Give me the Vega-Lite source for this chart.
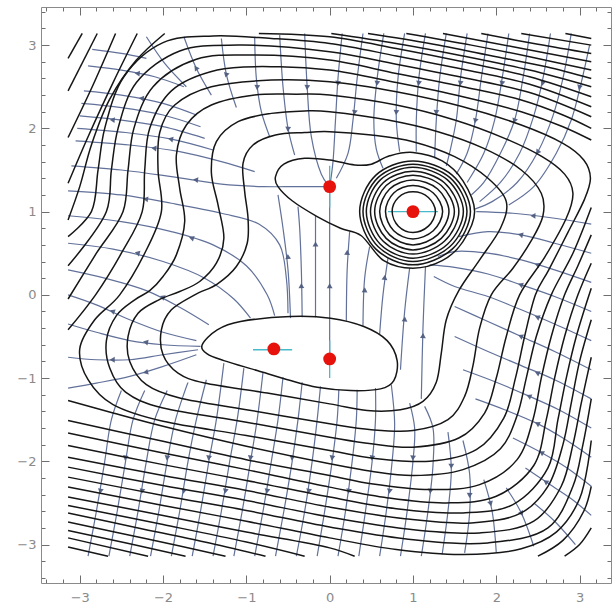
{
"$schema":"https://vega.github.io/schema/vega-lite/v6.json",
"width":570,"height":576,"autosize":"none",
"padding":{"left":41,"top":7,"right":4,"bottom":29},
"background":"white",
"config":{"view":{"stroke":null},"axis":{"tickColor":"#6e6e6e","tickWidth":1,"domainColor":"#8a8a8a","domainWidth":1}},
"datasets":{
"loops":[
{"g":"L1","x":0,"y":1.96},{"g":"L1","x":0.5,"y":1.92},{"g":"L1","x":1.0,"y":1.84},{"g":"L1","x":1.5,"y":1.66},{"g":"L1","x":1.9,"y":1.40},{"g":"L1","x":2.12,"y":1.12},{"g":"L1","x":2.05,"y":0.80},{"g":"L1","x":1.8,"y":0.42},{"g":"L1","x":1.55,"y":0.05},{"g":"L1","x":1.40,"y":-0.30},{"g":"L1","x":1.34,"y":-0.70},{"g":"L1","x":1.28,"y":-1.05},{"g":"L1","x":1.12,"y":-1.28},{"g":"L1","x":0.85,"y":-1.38},{"g":"L1","x":0.45,"y":-1.39},{"g":"L1","x":0,"y":-1.31},{"g":"L1","x":-0.75,"y":-1.18},{"g":"L1","x":-1.5,"y":-1.06},{"g":"L1","x":-1.82,"y":-0.94},{"g":"L1","x":-2.0,"y":-0.72},{"g":"L1","x":-2.02,"y":-0.42},{"g":"L1","x":-1.9,"y":-0.18},{"g":"L1","x":-1.62,"y":0.0},{"g":"L1","x":-1.35,"y":0.13},{"g":"L1","x":-1.12,"y":0.34},{"g":"L1","x":-0.99,"y":0.62},{"g":"L1","x":-0.98,"y":0.92},{"g":"L1","x":-1.02,"y":1.24},{"g":"L1","x":-1.04,"y":1.58},{"g":"L1","x":-0.92,"y":1.80},{"g":"L1","x":-0.65,"y":1.92},{"g":"L1","x":-0.3,"y":1.95},
{"g":"L2","x":0,"y":2.20},{"g":"L2","x":0.7,"y":2.10},{"g":"L2","x":1.3,"y":1.96},{"g":"L2","x":1.85,"y":1.76},{"g":"L2","x":2.3,"y":1.50},{"g":"L2","x":2.54,"y":1.22},{"g":"L2","x":2.56,"y":0.95},{"g":"L2","x":2.42,"y":0.65},{"g":"L2","x":2.2,"y":0.32},{"g":"L2","x":1.94,"y":0.0},{"g":"L2","x":1.80,"y":-0.40},{"g":"L2","x":1.72,"y":-0.85},{"g":"L2","x":1.62,"y":-1.22},{"g":"L2","x":1.42,"y":-1.50},{"g":"L2","x":1.0,"y":-1.63},{"g":"L2","x":0.5,"y":-1.62},{"g":"L2","x":0,"y":-1.55},{"g":"L2","x":-1.0,"y":-1.38},{"g":"L2","x":-1.8,"y":-1.24},{"g":"L2","x":-2.2,"y":-1.08},{"g":"L2","x":-2.40,"y":-0.80},{"g":"L2","x":-2.42,"y":-0.50},{"g":"L2","x":-2.3,"y":-0.22},{"g":"L2","x":-2.05,"y":-0.06},{"g":"L2","x":-1.80,"y":0.04},{"g":"L2","x":-1.56,"y":0.16},{"g":"L2","x":-1.36,"y":0.38},{"g":"L2","x":-1.27,"y":0.68},{"g":"L2","x":-1.34,"y":1.08},{"g":"L2","x":-1.42,"y":1.47},{"g":"L2","x":-1.36,"y":1.84},{"g":"L2","x":-1.10,"y":2.08},{"g":"L2","x":-0.7,"y":2.18},{"g":"L2","x":-0.3,"y":2.21},
{"g":"L3","x":0,"y":2.40},{"g":"L3","x":0.8,"y":2.28},{"g":"L3","x":1.5,"y":2.10},{"g":"L3","x":2.1,"y":1.88},{"g":"L3","x":2.55,"y":1.66},{"g":"L3","x":2.82,"y":1.45},{"g":"L3","x":2.92,"y":1.22},{"g":"L3","x":2.84,"y":0.92},{"g":"L3","x":2.58,"y":0.45},{"g":"L3","x":2.28,"y":0.0},{"g":"L3","x":2.12,"y":-0.5},{"g":"L3","x":2.0,"y":-1.0},{"g":"L3","x":1.86,"y":-1.42},{"g":"L3","x":1.55,"y":-1.72},{"g":"L3","x":1.0,"y":-1.83},{"g":"L3","x":0.5,"y":-1.79},{"g":"L3","x":0,"y":-1.71},{"g":"L3","x":-1.0,"y":-1.53},{"g":"L3","x":-2.0,"y":-1.36},{"g":"L3","x":-2.45,"y":-1.17},{"g":"L3","x":-2.64,"y":-0.88},{"g":"L3","x":-2.68,"y":-0.55},{"g":"L3","x":-2.56,"y":-0.25},{"g":"L3","x":-2.34,"y":-0.06},{"g":"L3","x":-2.16,"y":0.05},{"g":"L3","x":-2.0,"y":0.22},{"g":"L3","x":-1.84,"y":0.48},{"g":"L3","x":-1.74,"y":0.88},{"g":"L3","x":-1.80,"y":1.28},{"g":"L3","x":-1.84,"y":1.68},{"g":"L3","x":-1.72,"y":2.04},{"g":"L3","x":-1.42,"y":2.28},{"g":"L3","x":-0.9,"y":2.40},{"g":"L3","x":-0.4,"y":2.41},
{"g":"L4","x":0,"y":2.56},{"g":"L4","x":0.8,"y":2.44},{"g":"L4","x":1.6,"y":2.26},{"g":"L4","x":2.3,"y":2.04},{"g":"L4","x":2.8,"y":1.82},{"g":"L4","x":3.05,"y":1.62},{"g":"L4","x":3.13,"y":1.40},{"g":"L4","x":3.06,"y":1.15},{"g":"L4","x":2.86,"y":0.75},{"g":"L4","x":2.63,"y":0.3},{"g":"L4","x":2.47,"y":0.0},{"g":"L4","x":2.34,"y":-0.5},{"g":"L4","x":2.23,"y":-1.0},{"g":"L4","x":2.09,"y":-1.48},{"g":"L4","x":1.76,"y":-1.86},{"g":"L4","x":1.2,"y":-2.0},{"g":"L4","x":0.5,"y":-1.96},{"g":"L4","x":0,"y":-1.87},{"g":"L4","x":-1.0,"y":-1.69},{"g":"L4","x":-2.0,"y":-1.52},{"g":"L4","x":-2.6,"y":-1.32},{"g":"L4","x":-2.9,"y":-1.02},{"g":"L4","x":-3.0,"y":-0.65},{"g":"L4","x":-2.82,"y":-0.3},{"g":"L4","x":-2.52,"y":0.0},{"g":"L4","x":-2.22,"y":0.5},{"g":"L4","x":-2.02,"y":1.0},{"g":"L4","x":-2.06,"y":1.5},{"g":"L4","x":-2.04,"y":1.95},{"g":"L4","x":-1.86,"y":2.28},{"g":"L4","x":-1.42,"y":2.50},{"g":"L4","x":-0.7,"y":2.58},
{"g":"B0","x":-1.53,"y":-0.60},{"g":"B0","x":-1.35,"y":-0.42},{"g":"B0","x":-1.07,"y":-0.32},{"g":"B0","x":-0.47,"y":-0.26},{"g":"B0","x":0.01,"y":-0.28},{"g":"B0","x":0.41,"y":-0.38},{"g":"B0","x":0.69,"y":-0.55},{"g":"B0","x":0.81,"y":-0.79},{"g":"B0","x":0.77,"y":-1.03},{"g":"B0","x":0.61,"y":-1.13},{"g":"B0","x":0.25,"y":-1.15},{"g":"B0","x":-0.15,"y":-1.11},{"g":"B0","x":-0.47,"y":-1.03},{"g":"B0","x":-0.87,"y":-0.91},{"g":"B0","x":-1.27,"y":-0.79},{"g":"B0","x":-1.47,"y":-0.71},
{"g":"L0","x":-0.65,"y":1.42},{"g":"L0","x":-0.55,"y":1.57},{"g":"L0","x":-0.3,"y":1.64},{"g":"L0","x":0.0,"y":1.62},{"g":"L0","x":0.3,"y":1.56},{"g":"L0","x":0.5,"y":1.57},{"g":"L0","x":0.72,"y":1.67},{"g":"L0","x":1.0,"y":1.71},{"g":"L0","x":1.35,"y":1.61},{"g":"L0","x":1.6,"y":1.37},{"g":"L0","x":1.74,"y":1.0},{"g":"L0","x":1.6,"y":0.64},{"g":"L0","x":1.35,"y":0.41},{"g":"L0","x":1.0,"y":0.32},{"g":"L0","x":0.65,"y":0.41},{"g":"L0","x":0.38,"y":0.71},{"g":"L0","x":0.13,"y":0.80},{"g":"L0","x":-0.15,"y":0.94},{"g":"L0","x":-0.45,"y":1.13},{"g":"L0","x":-0.62,"y":1.3},
{"g":"r1","x":1.27,"y":1},{"g":"r1","x":1.185,"y":1.17},{"g":"r1","x":1,"y":1.238},{"g":"r1","x":0.825,"y":1.17},{"g":"r1","x":0.75,"y":1},{"g":"r1","x":0.825,"y":0.825},{"g":"r1","x":1,"y":0.75},{"g":"r1","x":1.185,"y":0.825},
{"g":"r2","x":1.356,"y":1},{"g":"r2","x":1.244,"y":1.224},{"g":"r2","x":1,"y":1.314},{"g":"r2","x":0.769,"y":1.224},{"g":"r2","x":0.67,"y":1},{"g":"r2","x":0.769,"y":0.769},{"g":"r2","x":1,"y":0.67},{"g":"r2","x":1.244,"y":0.769},
{"g":"r3","x":1.432,"y":1},{"g":"r3","x":1.296,"y":1.272},{"g":"r3","x":1,"y":1.38},{"g":"r3","x":0.72,"y":1.272},{"g":"r3","x":0.6,"y":1},{"g":"r3","x":0.72,"y":0.72},{"g":"r3","x":1,"y":0.6},{"g":"r3","x":1.296,"y":0.72},
{"g":"r4","x":1.497,"y":1},{"g":"r4","x":1.34,"y":1.313},{"g":"r4","x":1,"y":1.437},{"g":"r4","x":0.678,"y":1.313},{"g":"r4","x":0.54,"y":1},{"g":"r4","x":0.678,"y":0.678},{"g":"r4","x":1,"y":0.54},{"g":"r4","x":1.34,"y":0.678},
{"g":"r5","x":1.551,"y":1},{"g":"r5","x":1.377,"y":1.347},{"g":"r5","x":1,"y":1.485},{"g":"r5","x":0.643,"y":1.347},{"g":"r5","x":0.49,"y":1},{"g":"r5","x":0.643,"y":0.643},{"g":"r5","x":1,"y":0.49},{"g":"r5","x":1.377,"y":0.643},
{"g":"r6","x":1.605,"y":1},{"g":"r6","x":1.414,"y":1.381},{"g":"r6","x":1,"y":1.532},{"g":"r6","x":0.608,"y":1.381},{"g":"r6","x":0.44,"y":1},{"g":"r6","x":0.608,"y":0.608},{"g":"r6","x":1,"y":0.44},{"g":"r6","x":1.414,"y":0.608},
{"g":"r7","x":1.648,"y":1},{"g":"r7","x":1.444,"y":1.408},{"g":"r7","x":1,"y":1.57},{"g":"r7","x":0.58,"y":1.408},{"g":"r7","x":0.4,"y":1},{"g":"r7","x":0.58,"y":0.58},{"g":"r7","x":1,"y":0.4},{"g":"r7","x":1.444,"y":0.58},
{"g":"r8","x":1.69,"y":1},{"g":"r8","x":1.474,"y":1.435},{"g":"r8","x":1,"y":1.608},{"g":"r8","x":0.552,"y":1.435},{"g":"r8","x":0.36,"y":1},{"g":"r8","x":0.552,"y":0.552},{"g":"r8","x":1,"y":0.36},{"g":"r8","x":1.474,"y":0.552}
],
"open":[
{"g":"L5a","x":-3.14,"y":-0.42},{"g":"L5a","x":-2.81,"y":0.0},{"g":"L5a","x":-2.5,"y":0.5},{"g":"L5a","x":-2.25,"y":1.0},{"g":"L5a","x":-2.22,"y":1.5},{"g":"L5a","x":-2.16,"y":2.0},{"g":"L5a","x":-1.9,"y":2.45},{"g":"L5a","x":-1.35,"y":2.70},{"g":"L5a","x":-0.6,"y":2.74},{"g":"L5a","x":0,"y":2.70},{"g":"L5a","x":0.8,"y":2.55},{"g":"L5a","x":1.6,"y":2.38},{"g":"L5a","x":2.3,"y":2.20},{"g":"L5a","x":2.8,"y":2.02},{"g":"L5a","x":3.14,"y":1.86},
{"g":"L5b","x":3.14,"y":1.05},{"g":"L5b","x":2.92,"y":0.5},{"g":"L5b","x":2.66,"y":0.0},{"g":"L5b","x":2.48,"y":-0.5},{"g":"L5b","x":2.36,"y":-1.0},{"g":"L5b","x":2.25,"y":-1.45},{"g":"L5b","x":2.05,"y":-1.85},{"g":"L5b","x":1.6,"y":-2.10},{"g":"L5b","x":1.0,"y":-2.17},{"g":"L5b","x":0.5,"y":-2.12},{"g":"L5b","x":0,"y":-2.03},{"g":"L5b","x":-1.0,"y":-1.82},{"g":"L5b","x":-2.0,"y":-1.58},{"g":"L5b","x":-2.6,"y":-1.42},{"g":"L5b","x":-3.14,"y":-1.27},
{"g":"L6a","x":-3.14,"y":-0.05},{"g":"L6a","x":-2.8,"y":0.5},{"g":"L6a","x":-2.48,"y":1.0},{"g":"L6a","x":-2.42,"y":1.5},{"g":"L6a","x":-2.35,"y":2.0},{"g":"L6a","x":-2.12,"y":2.5},{"g":"L6a","x":-1.6,"y":2.83},{"g":"L6a","x":-0.9,"y":2.88},{"g":"L6a","x":0,"y":2.82},{"g":"L6a","x":0.8,"y":2.66},{"g":"L6a","x":1.6,"y":2.50},{"g":"L6a","x":2.3,"y":2.34},{"g":"L6a","x":2.8,"y":2.16},{"g":"L6a","x":3.14,"y":2.00},
{"g":"L6b","x":3.14,"y":0.72},{"g":"L6b","x":2.98,"y":0.35},{"g":"L6b","x":2.82,"y":0.0},{"g":"L6b","x":2.66,"y":-0.5},{"g":"L6b","x":2.54,"y":-1.0},{"g":"L6b","x":2.44,"y":-1.5},{"g":"L6b","x":2.25,"y":-1.98},{"g":"L6b","x":1.8,"y":-2.28},{"g":"L6b","x":1.2,"y":-2.34},{"g":"L6b","x":0.5,"y":-2.27},{"g":"L6b","x":0,"y":-2.17},{"g":"L6b","x":-1.0,"y":-1.98},{"g":"L6b","x":-2.0,"y":-1.76},{"g":"L6b","x":-3.14,"y":-1.51},
{"g":"L7a","x":-3.14,"y":0.35},{"g":"L7a","x":-2.68,"y":1.0},{"g":"L7a","x":-2.62,"y":1.5},{"g":"L7a","x":-2.54,"y":2.0},{"g":"L7a","x":-2.32,"y":2.55},{"g":"L7a","x":-1.8,"y":2.93},{"g":"L7a","x":-1.1,"y":3.0},{"g":"L7a","x":0,"y":2.92},{"g":"L7a","x":0.8,"y":2.77},{"g":"L7a","x":1.6,"y":2.61},{"g":"L7a","x":2.4,"y":2.43},{"g":"L7a","x":3.14,"y":2.14},
{"g":"L7b","x":3.14,"y":0.38},{"g":"L7b","x":2.98,"y":0.0},{"g":"L7b","x":2.82,"y":-0.5},{"g":"L7b","x":2.70,"y":-1.0},{"g":"L7b","x":2.60,"y":-1.5},{"g":"L7b","x":2.45,"y":-2.05},{"g":"L7b","x":2.0,"y":-2.42},{"g":"L7b","x":1.4,"y":-2.50},{"g":"L7b","x":0.7,"y":-2.44},{"g":"L7b","x":0,"y":-2.31},{"g":"L7b","x":-1.0,"y":-2.10},{"g":"L7b","x":-2.0,"y":-1.90},{"g":"L7b","x":-3.14,"y":-1.66},
{"g":"L8a","x":-3.14,"y":0.7},{"g":"L8a","x":-2.86,"y":1.0},{"g":"L8a","x":-2.78,"y":1.5},{"g":"L8a","x":-2.70,"y":2.0},{"g":"L8a","x":-2.47,"y":2.62},{"g":"L8a","x":-2.0,"y":3.03},{"g":"L8a","x":-1.4,"y":3.11},{"g":"L8a","x":-0.7,"y":3.08},{"g":"L8a","x":0,"y":3.02},{"g":"L8a","x":0.8,"y":2.87},{"g":"L8a","x":1.6,"y":2.71},{"g":"L8a","x":2.4,"y":2.53},{"g":"L8a","x":3.14,"y":2.26},
{"g":"L8b","x":3.14,"y":0.08},{"g":"L8b","x":2.96,"y":-0.5},{"g":"L8b","x":2.84,"y":-1.0},{"g":"L8b","x":2.74,"y":-1.5},{"g":"L8b","x":2.62,"y":-2.08},{"g":"L8b","x":2.2,"y":-2.52},{"g":"L8b","x":1.6,"y":-2.62},{"g":"L8b","x":0.8,"y":-2.57},{"g":"L8b","x":0,"y":-2.43},{"g":"L8b","x":-1.0,"y":-2.23},{"g":"L8b","x":-2.0,"y":-2.04},{"g":"L8b","x":-3.14,"y":-1.81},
{"g":"L9a","x":-3.14,"y":0.9},{"g":"L9a","x":-3.0,"y":1.3},{"g":"L9a","x":-2.86,"y":1.8},{"g":"L9a","x":-2.64,"y":2.35},{"g":"L9a","x":-2.32,"y":2.82},{"g":"L9a","x":-1.98,"y":3.14},
{"g":"L9b","x":-0.85,"y":3.14},{"g":"L9b","x":0,"y":3.10},{"g":"L9b","x":0.8,"y":2.96},{"g":"L9b","x":1.6,"y":2.80},{"g":"L9b","x":2.4,"y":2.62},{"g":"L9b","x":3.14,"y":2.38},
{"g":"L9c","x":3.14,"y":-0.3},{"g":"L9c","x":3.0,"y":-0.8},{"g":"L9c","x":2.9,"y":-1.3},{"g":"L9c","x":2.8,"y":-1.8},{"g":"L9c","x":2.62,"y":-2.3},{"g":"L9c","x":2.3,"y":-2.62},{"g":"L9c","x":1.7,"y":-2.74},{"g":"L9c","x":0.9,"y":-2.69},{"g":"L9c","x":0,"y":-2.55},{"g":"L9c","x":-1.0,"y":-2.35},{"g":"L9c","x":-2.0,"y":-2.17},{"g":"L9c","x":-3.14,"y":-1.95},
{"g":"L10a","x":-3.14,"y":1.34},{"g":"L10a","x":-2.9,"y":1.9},{"g":"L10a","x":-2.6,"y":2.55},{"g":"L10a","x":-2.31,"y":3.14},
{"g":"L10b","x":0.02,"y":3.14},{"g":"L10b","x":0.8,"y":3.02},{"g":"L10b","x":1.6,"y":2.87},{"g":"L10b","x":2.4,"y":2.70},{"g":"L10b","x":3.14,"y":2.50},
{"g":"L10c","x":3.14,"y":-0.75},{"g":"L10c","x":3.02,"y":-1.3},{"g":"L10c","x":2.92,"y":-1.8},{"g":"L10c","x":2.78,"y":-2.3},{"g":"L10c","x":2.45,"y":-2.72},{"g":"L10c","x":1.8,"y":-2.86},{"g":"L10c","x":0.9,"y":-2.81},{"g":"L10c","x":0,"y":-2.67},{"g":"L10c","x":-1.0,"y":-2.47},{"g":"L10c","x":-2.0,"y":-2.29},{"g":"L10c","x":-3.14,"y":-2.07},
{"g":"L11a","x":-3.14,"y":1.89},{"g":"L11a","x":-2.85,"y":2.5},{"g":"L11a","x":-2.57,"y":3.14},
{"g":"L11b","x":0.46,"y":3.14},{"g":"L11b","x":1.2,"y":3.02},{"g":"L11b","x":2.0,"y":2.86},{"g":"L11b","x":2.6,"y":2.74},{"g":"L11b","x":3.14,"y":2.60},
{"g":"L11c","x":3.14,"y":-1.25},{"g":"L11c","x":3.04,"y":-1.8},{"g":"L11c","x":2.92,"y":-2.3},{"g":"L11c","x":2.62,"y":-2.8},{"g":"L11c","x":1.9,"y":-2.98},{"g":"L11c","x":0.9,"y":-2.93},{"g":"L11c","x":0,"y":-2.79},{"g":"L11c","x":-1.0,"y":-2.59},{"g":"L11c","x":-2.0,"y":-2.41},{"g":"L11c","x":-3.14,"y":-2.19},
{"g":"L12a","x":-3.14,"y":2.45},{"g":"L12a","x":-2.79,"y":3.14},
{"g":"L12b","x":0.92,"y":3.14},{"g":"L12b","x":1.7,"y":3.0},{"g":"L12b","x":2.4,"y":2.86},{"g":"L12b","x":3.14,"y":2.70},
{"g":"L12c","x":3.14,"y":-1.75},{"g":"L12c","x":3.0,"y":-2.45},{"g":"L12c","x":2.72,"y":-2.85},{"g":"L12c","x":2.3,"y":-3.05},{"g":"L12c","x":1.6,"y":-3.12},{"g":"L12c","x":0.8,"y":-3.06},{"g":"L12c","x":0,"y":-2.92},{"g":"L12c","x":-1.0,"y":-2.72},{"g":"L12c","x":-2.0,"y":-2.53},{"g":"L12c","x":-3.14,"y":-2.31},
{"g":"L13a","x":-3.14,"y":2.84},{"g":"L13a","x":-2.97,"y":3.14},
{"g":"L13b","x":1.36,"y":3.14},{"g":"L13b","x":2.2,"y":2.98},{"g":"L13b","x":3.14,"y":2.80},
{"g":"L13c","x":3.14,"y":-2.3},{"g":"L13c","x":3.05,"y":-2.6},{"g":"L13c","x":2.8,"y":-2.95},{"g":"L13c","x":2.5,"y":-3.14},
{"g":"L13d","x":0.3,"y":-3.14},{"g":"L13d","x":0,"y":-3.04},{"g":"L13d","x":-1.0,"y":-2.85},{"g":"L13d","x":-2.0,"y":-2.65},{"g":"L13d","x":-3.14,"y":-2.43},
{"g":"L14b","x":1.82,"y":3.14},{"g":"L14b","x":2.5,"y":3.01},{"g":"L14b","x":3.14,"y":2.90},
{"g":"L14c","x":3.14,"y":-2.8},{"g":"L14c","x":3.0,"y":-3.0},{"g":"L14c","x":2.82,"y":-3.14},
{"g":"L14d","x":-0.3,"y":-3.14},{"g":"L14d","x":-1.0,"y":-2.97},{"g":"L14d","x":-2.0,"y":-2.76},{"g":"L14d","x":-3.14,"y":-2.53},
{"g":"L15b","x":2.30,"y":3.14},{"g":"L15b","x":3.14,"y":3.00},
{"g":"L15d","x":-0.77,"y":-3.14},{"g":"L15d","x":-1.5,"y":-2.97},{"g":"L15d","x":-2.3,"y":-2.8},{"g":"L15d","x":-3.14,"y":-2.62},
{"g":"L16b","x":2.83,"y":3.14},{"g":"L16b","x":3.14,"y":3.08},
{"g":"L16d","x":-1.25,"y":-3.14},{"g":"L16d","x":-2.2,"y":-2.93},{"g":"L16d","x":-3.14,"y":-2.73},
{"g":"L17d","x":-1.73,"y":-3.14},{"g":"L17d","x":-2.4,"y":-2.99},{"g":"L17d","x":-3.14,"y":-2.83},
{"g":"L18d","x":-2.18,"y":-3.14},{"g":"L18d","x":-3.14,"y":-2.92},
{"g":"L19d","x":-2.66,"y":-3.14},{"g":"L19d","x":-3.14,"y":-3.03}
],
"streams":[
{"g":"s1a","x":0.15,"y":3.14},{"g":"s1a","x":0.1,"y":2.6},{"g":"s1a","x":0.07,"y":2.1},{"g":"s1a","x":0.04,"y":1.6},{"g":"s1a","x":0.01,"y":1.36},
{"g":"s1b","x":0.4,"y":3.14},{"g":"s1b","x":0.33,"y":2.6},{"g":"s1b","x":0.28,"y":2.1},{"g":"s1b","x":0.22,"y":1.7},{"g":"s1b","x":0.08,"y":1.4},
{"g":"s1c","x":0.65,"y":3.14},{"g":"s1c","x":0.57,"y":2.6},{"g":"s1c","x":0.53,"y":2.1},{"g":"s1c","x":0.56,"y":1.75},{"g":"s1c","x":0.64,"y":1.52},
{"g":"s1d","x":0.9,"y":3.14},{"g":"s1d","x":0.82,"y":2.6},{"g":"s1d","x":0.8,"y":2.1},{"g":"s1d","x":0.84,"y":1.72},
{"g":"s1e","x":1.15,"y":3.14},{"g":"s1e","x":1.07,"y":2.6},{"g":"s1e","x":1.04,"y":2.1},{"g":"s1e","x":1.04,"y":1.72},
{"g":"s1f","x":1.4,"y":3.14},{"g":"s1f","x":1.32,"y":2.6},{"g":"s1f","x":1.28,"y":2.1},{"g":"s1f","x":1.26,"y":1.64},
{"g":"s1g","x":1.65,"y":3.14},{"g":"s1g","x":1.57,"y":2.6},{"g":"s1g","x":1.52,"y":2.1},{"g":"s1g","x":1.45,"y":1.75},{"g":"s1g","x":1.4,"y":1.55},
{"g":"s1h","x":1.9,"y":3.14},{"g":"s1h","x":1.82,"y":2.6},{"g":"s1h","x":1.75,"y":2.1},{"g":"s1h","x":1.65,"y":1.7},{"g":"s1h","x":1.52,"y":1.45},
{"g":"s1i","x":2.15,"y":3.14},{"g":"s1i","x":2.07,"y":2.6},{"g":"s1i","x":1.98,"y":2.1},{"g":"s1i","x":1.85,"y":1.7},{"g":"s1i","x":1.65,"y":1.35},
{"g":"s1j","x":2.4,"y":3.14},{"g":"s1j","x":2.32,"y":2.6},{"g":"s1j","x":2.22,"y":2.1},{"g":"s1j","x":2.05,"y":1.7},{"g":"s1j","x":1.85,"y":1.35},{"g":"s1j","x":1.7,"y":1.2},
{"g":"s1k","x":2.65,"y":3.14},{"g":"s1k","x":2.56,"y":2.6},{"g":"s1k","x":2.45,"y":2.15},{"g":"s1k","x":2.28,"y":1.7},{"g":"s1k","x":2.05,"y":1.35},{"g":"s1k","x":1.8,"y":1.12},
{"g":"s1l","x":2.9,"y":3.14},{"g":"s1l","x":2.8,"y":2.6},{"g":"s1l","x":2.68,"y":2.15},{"g":"s1l","x":2.5,"y":1.72},{"g":"s1l","x":2.25,"y":1.35},{"g":"s1l","x":1.95,"y":1.12},{"g":"s1l","x":1.74,"y":1.03},
{"g":"s1m","x":3.12,"y":3.0},{"g":"s1m","x":3.02,"y":2.55},{"g":"s1m","x":2.9,"y":2.1},{"g":"s1m","x":2.72,"y":1.7},{"g":"s1m","x":2.45,"y":1.3},{"g":"s1m","x":2.15,"y":1.08},
{"g":"s6a","x":-0.3,"y":3.14},{"g":"s6a","x":-0.27,"y":2.5},{"g":"s6a","x":-0.22,"y":1.9},{"g":"s6a","x":-0.1,"y":1.45},{"g":"s6a","x":-0.02,"y":1.32},
{"g":"s6b","x":-0.6,"y":3.12},{"g":"s6b","x":-0.56,"y":2.5},{"g":"s6b","x":-0.5,"y":2.0},{"g":"s6b","x":-0.42,"y":1.68},
{"g":"s6c","x":-0.9,"y":3.1},{"g":"s6c","x":-0.88,"y":2.6},{"g":"s6c","x":-0.82,"y":2.2},{"g":"s6c","x":-0.72,"y":1.9},
{"g":"s6d","x":-1.3,"y":3.08},{"g":"s6d","x":-1.24,"y":2.65},{"g":"s6d","x":-1.12,"y":2.25},
{"g":"s6e","x":-1.75,"y":3.1},{"g":"s6e","x":-1.6,"y":2.72},{"g":"s6e","x":-1.42,"y":2.4},
{"g":"s6f","x":-2.2,"y":3.1},{"g":"s6f","x":-1.98,"y":2.78},{"g":"s6f","x":-1.72,"y":2.5},
{"g":"s4p","x":-2.85,"y":2.95},{"g":"s4p","x":-2.5,"y":2.9},{"g":"s4p","x":-2.2,"y":2.84},
{"g":"s4a","x":-2.9,"y":2.75},{"g":"s4a","x":-2.5,"y":2.7},{"g":"s4a","x":-2.1,"y":2.62},{"g":"s4a","x":-1.75,"y":2.5},
{"g":"s4b","x":-2.95,"y":2.45},{"g":"s4b","x":-2.5,"y":2.4},{"g":"s4b","x":-2.0,"y":2.3},{"g":"s4b","x":-1.6,"y":2.16},
{"g":"s4n","x":-2.98,"y":2.3},{"g":"s4n","x":-2.5,"y":2.25},{"g":"s4n","x":-2.0,"y":2.16},{"g":"s4n","x":-1.55,"y":2.02},
{"g":"s4c","x":-3.0,"y":2.15},{"g":"s4c","x":-2.5,"y":2.1},{"g":"s4c","x":-2.0,"y":2.02},{"g":"s4c","x":-1.5,"y":1.88},
{"g":"s4o","x":-3.03,"y":2.0},{"g":"s4o","x":-2.45,"y":1.95},{"g":"s4o","x":-1.9,"y":1.87},{"g":"s4o","x":-1.4,"y":1.74},
{"g":"s4d","x":-3.05,"y":1.85},{"g":"s4d","x":-2.4,"y":1.8},{"g":"s4d","x":-1.8,"y":1.72},{"g":"s4d","x":-1.3,"y":1.6},{"g":"s4d","x":-0.9,"y":1.48},
{"g":"s4e","x":-3.1,"y":1.55},{"g":"s4e","x":-2.5,"y":1.5},{"g":"s4e","x":-1.9,"y":1.42},{"g":"s4e","x":-1.3,"y":1.33},{"g":"s4e","x":-0.8,"y":1.3},{"g":"s4e","x":-0.4,"y":1.3},{"g":"s4e","x":-0.05,"y":1.3},
{"g":"s4f","x":-3.14,"y":1.25},{"g":"s4f","x":-2.5,"y":1.2},{"g":"s4f","x":-1.9,"y":1.1},{"g":"s4f","x":-1.3,"y":0.98},{"g":"s4f","x":-0.85,"y":0.85},{"g":"s4f","x":-0.6,"y":0.6},{"g":"s4f","x":-0.52,"y":0.2},{"g":"s4f","x":-0.5,"y":-0.22},
{"g":"s4g","x":-3.14,"y":0.95},{"g":"s4g","x":-2.5,"y":0.88},{"g":"s4g","x":-1.9,"y":0.76},{"g":"s4g","x":-1.4,"y":0.6},{"g":"s4g","x":-1.0,"y":0.35},{"g":"s4g","x":-0.75,"y":0.0},{"g":"s4g","x":-0.66,"y":-0.25},
{"g":"s4h","x":-3.14,"y":0.62},{"g":"s4h","x":-2.6,"y":0.55},{"g":"s4h","x":-2.0,"y":0.4},{"g":"s4h","x":-1.5,"y":0.2},{"g":"s4h","x":-1.15,"y":-0.05},{"g":"s4h","x":-0.95,"y":-0.28},
{"g":"s4i","x":-3.14,"y":0.3},{"g":"s4i","x":-2.7,"y":0.2},{"g":"s4i","x":-2.2,"y":0.05},{"g":"s4i","x":-1.8,"y":-0.15},{"g":"s4i","x":-1.45,"y":-0.36},
{"g":"s4j","x":-3.14,"y":0.0},{"g":"s4j","x":-2.8,"y":-0.12},{"g":"s4j","x":-2.4,"y":-0.3},{"g":"s4j","x":-2.0,"y":-0.45},{"g":"s4j","x":-1.6,"y":-0.55},
{"g":"s4k","x":-3.14,"y":-0.35},{"g":"s4k","x":-2.8,"y":-0.45},{"g":"s4k","x":-2.4,"y":-0.55},{"g":"s4k","x":-2.0,"y":-0.6},{"g":"s4k","x":-1.55,"y":-0.62},
{"g":"s4l","x":-3.14,"y":-0.75},{"g":"s4l","x":-2.8,"y":-0.78},{"g":"s4l","x":-2.4,"y":-0.78},{"g":"s4l","x":-2.0,"y":-0.72},{"g":"s4l","x":-1.58,"y":-0.66},
{"g":"s4m","x":-3.14,"y":-1.12},{"g":"s4m","x":-2.8,"y":-1.06},{"g":"s4m","x":-2.4,"y":-0.98},{"g":"s4m","x":-2.0,"y":-0.86},{"g":"s4m","x":-1.6,"y":-0.72},
{"g":"s5a","x":-0.47,"y":-0.28},{"g":"s5a","x":-0.5,"y":0.3},{"g":"s5a","x":-0.56,"y":0.8},{"g":"s5a","x":-0.62,"y":1.2},
{"g":"s5b","x":-0.33,"y":-0.27},{"g":"s5b","x":-0.34,"y":0.3},{"g":"s5b","x":-0.36,"y":0.8},{"g":"s5b","x":-0.38,"y":1.06},
{"g":"s5c","x":-0.17,"y":-0.27},{"g":"s5c","x":-0.17,"y":0.4},{"g":"s5c","x":-0.17,"y":0.95},
{"g":"s5d","x":0,"y":-0.77},{"g":"s5d","x":0,"y":0.2},{"g":"s5d","x":0,"y":1.3},
{"g":"s5e","x":0.2,"y":-0.31},{"g":"s5e","x":0.21,"y":0.3},{"g":"s5e","x":0.24,"y":0.76},
{"g":"s5f","x":0.4,"y":-0.37},{"g":"s5f","x":0.42,"y":0.2},{"g":"s5f","x":0.48,"y":0.58},
{"g":"s5g","x":0.6,"y":-0.47},{"g":"s5g","x":0.64,"y":0.0},{"g":"s5g","x":0.7,"y":0.44},
{"g":"s5h","x":0.85,"y":-0.9},{"g":"s5h","x":0.9,"y":-0.2},{"g":"s5h","x":0.96,"y":0.32},
{"g":"s5i","x":1.1,"y":-1.25},{"g":"s5i","x":1.12,"y":-0.4},{"g":"s5i","x":1.15,"y":0.34},
{"g":"s3a","x":-2.9,"y":-3.14},{"g":"s3a","x":-2.8,"y":-2.6},{"g":"s3a","x":-2.7,"y":-2.0},{"g":"s3a","x":-2.62,"y":-1.5},{"g":"s3a","x":-2.5,"y":-1.15},
{"g":"s3b","x":-2.65,"y":-3.14},{"g":"s3b","x":-2.55,"y":-2.6},{"g":"s3b","x":-2.45,"y":-2.0},{"g":"s3b","x":-2.36,"y":-1.5},{"g":"s3b","x":-2.22,"y":-1.15},
{"g":"s3c","x":-2.4,"y":-3.14},{"g":"s3c","x":-2.3,"y":-2.6},{"g":"s3c","x":-2.2,"y":-2.0},{"g":"s3c","x":-2.1,"y":-1.5},{"g":"s3c","x":-1.95,"y":-1.15},
{"g":"s3d","x":-2.15,"y":-3.14},{"g":"s3d","x":-2.05,"y":-2.6},{"g":"s3d","x":-1.95,"y":-2.0},{"g":"s3d","x":-1.85,"y":-1.5},{"g":"s3d","x":-1.7,"y":-1.05},
{"g":"s3e","x":-1.9,"y":-3.14},{"g":"s3e","x":-1.8,"y":-2.6},{"g":"s3e","x":-1.7,"y":-2.0},{"g":"s3e","x":-1.6,"y":-1.5},{"g":"s3e","x":-1.48,"y":-1.02},
{"g":"s3f","x":-1.65,"y":-3.14},{"g":"s3f","x":-1.55,"y":-2.6},{"g":"s3f","x":-1.45,"y":-2.0},{"g":"s3f","x":-1.36,"y":-1.5},{"g":"s3f","x":-1.27,"y":-0.82},
{"g":"s3g","x":-1.4,"y":-3.14},{"g":"s3g","x":-1.3,"y":-2.6},{"g":"s3g","x":-1.2,"y":-2.0},{"g":"s3g","x":-1.11,"y":-1.5},{"g":"s3g","x":-1.03,"y":-0.88},
{"g":"s3h","x":-1.15,"y":-3.14},{"g":"s3h","x":-1.05,"y":-2.6},{"g":"s3h","x":-0.95,"y":-2.0},{"g":"s3h","x":-0.87,"y":-1.5},{"g":"s3h","x":-0.8,"y":-0.93},
{"g":"s3i","x":-0.9,"y":-3.14},{"g":"s3i","x":-0.8,"y":-2.6},{"g":"s3i","x":-0.7,"y":-2.0},{"g":"s3i","x":-0.62,"y":-1.5},{"g":"s3i","x":-0.56,"y":-0.99},
{"g":"s3j","x":-0.65,"y":-3.14},{"g":"s3j","x":-0.55,"y":-2.6},{"g":"s3j","x":-0.45,"y":-2.0},{"g":"s3j","x":-0.38,"y":-1.5},{"g":"s3j","x":-0.33,"y":-1.05},
{"g":"s3k","x":-0.4,"y":-3.14},{"g":"s3k","x":-0.3,"y":-2.6},{"g":"s3k","x":-0.21,"y":-2.0},{"g":"s3k","x":-0.15,"y":-1.5},{"g":"s3k","x":-0.11,"y":-1.1},
{"g":"s3l","x":-0.15,"y":-3.14},{"g":"s3l","x":-0.06,"y":-2.6},{"g":"s3l","x":0.03,"y":-2.0},{"g":"s3l","x":0.09,"y":-1.5},{"g":"s3l","x":0.11,"y":-1.14},
{"g":"s3m","x":0.1,"y":-3.14},{"g":"s3m","x":0.19,"y":-2.6},{"g":"s3m","x":0.27,"y":-2.0},{"g":"s3m","x":0.32,"y":-1.5},{"g":"s3m","x":0.33,"y":-1.14},
{"g":"s3n","x":0.35,"y":-3.14},{"g":"s3n","x":0.43,"y":-2.6},{"g":"s3n","x":0.51,"y":-2.0},{"g":"s3n","x":0.55,"y":-1.5},{"g":"s3n","x":0.55,"y":-1.12},
{"g":"s3o","x":0.6,"y":-3.14},{"g":"s3o","x":0.68,"y":-2.6},{"g":"s3o","x":0.75,"y":-2.0},{"g":"s3o","x":0.78,"y":-1.55},{"g":"s3o","x":0.74,"y":-1.08},
{"g":"s3p","x":0.85,"y":-3.14},{"g":"s3p","x":0.93,"y":-2.6},{"g":"s3p","x":1.0,"y":-2.0},{"g":"s3p","x":1.02,"y":-1.6},{"g":"s3p","x":0.96,"y":-1.3},
{"g":"s3q","x":1.1,"y":-3.14},{"g":"s3q","x":1.18,"y":-2.6},{"g":"s3q","x":1.24,"y":-2.05},{"g":"s3q","x":1.24,"y":-1.6},{"g":"s3q","x":1.14,"y":-1.34},
{"g":"s3r","x":1.35,"y":-3.12},{"g":"s3r","x":1.42,"y":-2.6},{"g":"s3r","x":1.46,"y":-2.1},{"g":"s3r","x":1.42,"y":-1.65},
{"g":"s3s","x":1.62,"y":-3.1},{"g":"s3s","x":1.68,"y":-2.62},{"g":"s3s","x":1.68,"y":-2.15},{"g":"s3s","x":1.6,"y":-1.75},
{"g":"s3t","x":2.0,"y":-3.1},{"g":"s3t","x":1.95,"y":-2.6},{"g":"s3t","x":1.85,"y":-2.22},
{"g":"s3u","x":2.45,"y":-3.02},{"g":"s3u","x":2.3,"y":-2.62},{"g":"s3u","x":2.12,"y":-2.32},
{"g":"s3v","x":2.95,"y":-3.0},{"g":"s3v","x":2.7,"y":-2.72},{"g":"s3v","x":2.45,"y":-2.5},
{"g":"s2a","x":3.14,"y":0.85},{"g":"s2a","x":2.7,"y":0.92},{"g":"s2a","x":2.2,"y":0.98},{"g":"s2a","x":1.76,"y":1.0},
{"g":"s2b","x":3.14,"y":0.5},{"g":"s2b","x":2.7,"y":0.62},{"g":"s2b","x":2.3,"y":0.72},{"g":"s2b","x":1.9,"y":0.76},{"g":"s2b","x":1.55,"y":0.7},
{"g":"s2c","x":3.14,"y":0.15},{"g":"s2c","x":2.7,"y":0.3},{"g":"s2c","x":2.3,"y":0.42},{"g":"s2c","x":1.9,"y":0.5},{"g":"s2c","x":1.5,"y":0.52},{"g":"s2c","x":1.3,"y":0.46},
{"g":"s2d","x":3.14,"y":-0.2},{"g":"s2d","x":2.7,"y":-0.02},{"g":"s2d","x":2.3,"y":0.12},{"g":"s2d","x":1.9,"y":0.25},{"g":"s2d","x":1.5,"y":0.33},{"g":"s2d","x":1.2,"y":0.36},
{"g":"s2e","x":3.14,"y":-0.55},{"g":"s2e","x":2.7,"y":-0.35},{"g":"s2e","x":2.3,"y":-0.18},{"g":"s2e","x":1.9,"y":-0.02},{"g":"s2e","x":1.5,"y":0.1},{"g":"s2e","x":1.25,"y":0.22},
{"g":"s2f","x":3.14,"y":-0.9},{"g":"s2f","x":2.7,"y":-0.68},{"g":"s2f","x":2.3,"y":-0.5},{"g":"s2f","x":1.9,"y":-0.32},{"g":"s2f","x":1.5,"y":-0.14},
{"g":"s2g","x":3.14,"y":-1.25},{"g":"s2g","x":2.7,"y":-1.02},{"g":"s2g","x":2.3,"y":-0.85},{"g":"s2g","x":1.9,"y":-0.68},{"g":"s2g","x":1.5,"y":-0.5},
{"g":"s2h","x":3.14,"y":-1.6},{"g":"s2h","x":2.75,"y":-1.38},{"g":"s2h","x":2.4,"y":-1.22},{"g":"s2h","x":2.0,"y":-1.05},{"g":"s2h","x":1.6,"y":-0.9},
{"g":"s2i","x":3.14,"y":-1.95},{"g":"s2i","x":2.8,"y":-1.72},{"g":"s2i","x":2.5,"y":-1.55},{"g":"s2i","x":2.1,"y":-1.38},{"g":"s2i","x":1.75,"y":-1.25},
{"g":"s2j","x":3.14,"y":-2.3},{"g":"s2j","x":2.85,"y":-2.08},{"g":"s2j","x":2.55,"y":-1.9},{"g":"s2j","x":2.2,"y":-1.72},
{"g":"s2k","x":3.14,"y":-2.65},{"g":"s2k","x":2.9,"y":-2.45},{"g":"s2k","x":2.6,"y":-2.25},{"g":"s2k","x":2.35,"y":-2.08}
],
"arrows":[
{"x":0.1,"y":2.55,"a":186},{"x":0.3,"y":2.2,"a":188},{"x":0.57,"y":2.55,"a":188},{"x":0.8,"y":2.2,"a":185},{"x":1.07,"y":2.55,"a":188},{"x":1.28,"y":2.2,"a":185},{"x":1.57,"y":2.55,"a":188},{"x":1.75,"y":2.1,"a":195},{"x":2.07,"y":2.55,"a":190},{"x":2.22,"y":2.1,"a":200},{"x":2.56,"y":2.55,"a":192},{"x":2.5,"y":1.72,"a":215},{"x":3.0,"y":2.5,"a":195},
{"x":-0.27,"y":2.5,"a":184},{"x":-0.5,"y":2.0,"a":186},{"x":-0.87,"y":2.5,"a":184},{"x":-1.24,"y":2.65,"a":195},{"x":-1.6,"y":2.72,"a":205},
{"x":-2.3,"y":2.66,"a":275},{"x":-2.25,"y":2.36,"a":276},{"x":-2.6,"y":2.1,"a":275},{"x":-1.9,"y":1.87,"a":282},{"x":-2.1,"y":1.76,"a":276},{"x":-1.6,"y":1.38,"a":278},{"x":-2.2,"y":1.15,"a":278},{"x":-1.65,"y":0.68,"a":287},{"x":-2.3,"y":0.5,"a":285},{"x":-2.0,"y":-0.03,"a":294},{"x":-2.6,"y":-0.2,"a":292},{"x":-2.2,"y":-0.57,"a":282},{"x":-2.6,"y":-0.78,"a":270},{"x":-2.2,"y":-0.93,"a":255},
{"x":-0.5,"y":0.45,"a":356},{"x":-0.34,"y":0.1,"a":358},{"x":-0.17,"y":0.6,"a":0},{"x":0.0,"y":0.1,"a":0},{"x":0.21,"y":0.5,"a":2},{"x":0.42,"y":0.05,"a":3},{"x":0.66,"y":0.2,"a":6},{"x":0.9,"y":-0.3,"a":4},{"x":1.12,"y":-0.5,"a":2},
{"x":-2.75,"y":-2.35,"a":190},{"x":-2.45,"y":-1.95,"a":192},{"x":-2.25,"y":-2.35,"a":190},{"x":-1.95,"y":-1.95,"a":190},{"x":-1.75,"y":-2.35,"a":190},{"x":-1.45,"y":-1.95,"a":190},{"x":-1.25,"y":-2.35,"a":190},{"x":-0.95,"y":-1.95,"a":190},{"x":-0.75,"y":-2.35,"a":190},{"x":-0.45,"y":-1.95,"a":190},{"x":-0.25,"y":-2.35,"a":190},{"x":0.03,"y":-1.95,"a":190},{"x":0.23,"y":-2.35,"a":190},{"x":0.51,"y":-1.95,"a":190},{"x":0.72,"y":-2.35,"a":188},{"x":1.0,"y":-1.95,"a":185},{"x":1.21,"y":-2.35,"a":186},{"x":1.46,"y":-2.05,"a":180},{"x":1.68,"y":-2.4,"a":182},{"x":1.93,"y":-2.5,"a":165},{"x":2.3,"y":-2.62,"a":150},
{"x":2.45,"y":0.95,"a":272},{"x":2.3,"y":0.72,"a":285},{"x":2.5,"y":0.36,"a":290},{"x":2.3,"y":0.12,"a":290},{"x":2.5,"y":-0.27,"a":293},{"x":2.3,"y":-0.5,"a":295},{"x":2.5,"y":-0.94,"a":295},{"x":2.4,"y":-1.22,"a":295},{"x":2.5,"y":-1.55,"a":298},{"x":2.55,"y":-1.9,"a":300},{"x":2.6,"y":-2.25,"a":305}
],
"teal":[
{"g":"t1","x":0.7,"y":1.0},{"g":"t1","x":1.3,"y":1.0},
{"g":"t2","x":0,"y":1.05},{"g":"t2","x":0,"y":1.55},
{"g":"t3","x":-0.92,"y":-0.66},{"g":"t3","x":-0.45,"y":-0.66},
{"g":"t4","x":0,"y":-0.55},{"g":"t4","x":0,"y":-1.0}
],
"dots":[{"x":1.0,"y":1.0},{"x":0.0,"y":1.3},{"x":-0.67,"y":-0.65},{"x":0.0,"y":-0.77}]
},
"layer":[
{"data":{"name":"streams"},
 "transform":[{"window":[{"op":"row_number","as":"i"}]}],
 "mark":{"type":"line","interpolate":"catmull-rom","stroke":"#62719a","strokeWidth":1.2,"clip":true},
 "encoding":{
  "x":{"field":"x","type":"quantitative","scale":{"domain":[-3.465,3.377],"nice":false,"zero":false},
   "axis":{"orient":"top","title":null,"grid":false,"labels":false,"values":[-3.4,-3.2,-3,-2.8,-2.6,-2.4,-2.2,-2,-1.8,-1.6,-1.4,-1.2,-1,-0.8,-0.6,-0.4,-0.2,0,0.2,0.4,0.6,0.8,1,1.2,1.4,1.6,1.8,2,2.2,2.4,2.6,2.8,3,3.2],
    "tickSize":{"condition":{"test":"abs(datum.value-round(datum.value))<0.01","value":-8},"value":-4}}},
  "y":{"field":"y","type":"quantitative","scale":{"domain":[-3.462,3.458],"nice":false,"zero":false},
   "axis":{"orient":"right","title":null,"grid":false,"labels":false,"values":[-3.4,-3.2,-3,-2.8,-2.6,-2.4,-2.2,-2,-1.8,-1.6,-1.4,-1.2,-1,-0.8,-0.6,-0.4,-0.2,0,0.2,0.4,0.6,0.8,1,1.2,1.4,1.6,1.8,2,2.2,2.4,2.6,2.8,3,3.2,3.4],
    "tickSize":{"condition":{"test":"abs(datum.value-round(datum.value))<0.01","value":-8},"value":-4}}},
  "detail":{"field":"g"},
  "order":{"field":"i","type":"quantitative"}
 }},
{"data":{"name":"arrows"},
 "mark":{"type":"point","shape":"triangle","filled":true,"color":"#4f5d80","opacity":0.95,"size":34,"clip":true},
 "encoding":{
  "x":{"field":"x","type":"quantitative","scale":{"domain":[-3.465,3.377],"nice":false,"zero":false},"axis":null},
  "y":{"field":"y","type":"quantitative","scale":{"domain":[-3.462,3.458],"nice":false,"zero":false},"axis":null},
  "angle":{"field":"a","type":"quantitative","scale":null}
 }},
{"data":{"name":"teal"},
 "transform":[{"window":[{"op":"row_number","as":"i"}]}],
 "mark":{"type":"line","stroke":"#47b9c9","strokeWidth":1.3,"clip":true},
 "encoding":{
  "x":{"field":"x","type":"quantitative","scale":{"domain":[-3.465,3.377],"nice":false,"zero":false},"axis":null},
  "y":{"field":"y","type":"quantitative","scale":{"domain":[-3.462,3.458],"nice":false,"zero":false},"axis":null},
  "detail":{"field":"g"},
  "order":{"field":"i","type":"quantitative"}
 }},
{"data":{"name":"open"},
 "transform":[{"window":[{"op":"row_number","as":"i"}]}],
 "mark":{"type":"line","interpolate":"catmull-rom","stroke":"#161616","strokeWidth":1.5,"clip":true},
 "encoding":{
  "x":{"field":"x","type":"quantitative","scale":{"domain":[-3.465,3.377],"nice":false,"zero":false},
   "axis":{"orient":"bottom","title":null,"grid":false,"values":[-3.4,-3.2,-3,-2.8,-2.6,-2.4,-2.2,-2,-1.8,-1.6,-1.4,-1.2,-1,-0.8,-0.6,-0.4,-0.2,0,0.2,0.4,0.6,0.8,1,1.2,1.4,1.6,1.8,2,2.2,2.4,2.6,2.8,3,3.2],
    "labelExpr":"abs(datum.value-round(datum.value))<0.01 ? format(round(datum.value),'d') : ''",
    "tickSize":{"condition":{"test":"abs(datum.value-round(datum.value))<0.01","value":-8},"value":-4},
    "labelColor":"#8a8a8a","labelFont":"DejaVu Sans","labelFontSize":13,"labelPadding":16,"labelOverlap":false,"labelFlush":false,"labelBound":false}},
  "y":{"field":"y","type":"quantitative","scale":{"domain":[-3.462,3.458],"nice":false,"zero":false},
   "axis":{"orient":"left","title":null,"grid":false,"values":[-3.4,-3.2,-3,-2.8,-2.6,-2.4,-2.2,-2,-1.8,-1.6,-1.4,-1.2,-1,-0.8,-0.6,-0.4,-0.2,0,0.2,0.4,0.6,0.8,1,1.2,1.4,1.6,1.8,2,2.2,2.4,2.6,2.8,3,3.2,3.4],
    "labelExpr":"abs(datum.value-round(datum.value))<0.01 ? format(round(datum.value),'d') : ''",
    "tickSize":{"condition":{"test":"abs(datum.value-round(datum.value))<0.01","value":-8},"value":-4},
    "labelColor":"#8a8a8a","labelFont":"DejaVu Sans","labelFontSize":13,"labelPadding":13,"labelOverlap":false,"labelFlush":false,"labelBound":false}},
  "detail":{"field":"g"},
  "order":{"field":"i","type":"quantitative"}
 }},
{"data":{"name":"loops"},
 "transform":[{"window":[{"op":"row_number","as":"i"}]}],
 "mark":{"type":"line","interpolate":"cardinal-closed","stroke":"#161616","strokeWidth":1.5,"clip":true},
 "encoding":{
  "x":{"field":"x","type":"quantitative","scale":{"domain":[-3.465,3.377],"nice":false,"zero":false},"axis":null},
  "y":{"field":"y","type":"quantitative","scale":{"domain":[-3.462,3.458],"nice":false,"zero":false},"axis":null},
  "detail":{"field":"g"},
  "order":{"field":"i","type":"quantitative"}
 }},
{"data":{"name":"dots"},
 "mark":{"type":"point","filled":true,"shape":"circle","color":"#e8120c","opacity":1,"size":165},
 "encoding":{
  "x":{"field":"x","type":"quantitative","scale":{"domain":[-3.465,3.377],"nice":false,"zero":false},"axis":null},
  "y":{"field":"y","type":"quantitative","scale":{"domain":[-3.462,3.458],"nice":false,"zero":false},"axis":null}
 }}
],
"resolve":{"axis":{"x":"independent","y":"independent"}}
}
